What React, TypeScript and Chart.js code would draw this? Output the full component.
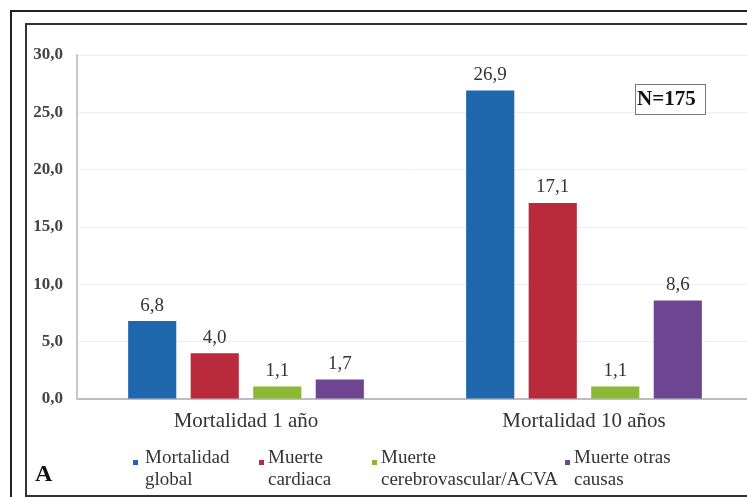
import React, { useEffect, useRef } from 'react';
import { Chart, registerables } from 'chart.js';

Chart.register(...registerables);

const categories = ['Mortalidad 1 año', 'Mortalidad 10 años'];
const seriesNames = ['Mortalidad global', 'Muerte cardiaca', 'Muerte cerebrovascular/ACVA', 'Muerte otras causas'];
const legendLines = [['Mortalidad', 'global'], ['Muerte', 'cardiaca'], ['Muerte', 'cerebrovascular/ACVA'], ['Muerte otras', 'causas']];
const mortalidadGlobal = [6.8, 26.9];
const muerteCardiaca = [4.0, 17.1];
const muerteCerebrovascular = [1.1, 1.1];
const muerteOtras = [1.7, 8.6];
const yMin = 0;
const yMax = 30;
const yStep = 5;
const sampleSizeLabel = 'N=175';
const panelLetter = 'A';

const colors = ['#1f67ad', '#b82a3c', '#8cb836', '#6e4591'];
const SERIF = '"Liberation Serif", "DejaVu Serif", serif';

const fmt = (v: number) => v.toFixed(1).replace('.', ',');

const overlayPlugin = {
  id: 'overlay',
  afterDatasetsDraw(chart: any) {
    const ctx = chart.ctx;
    ctx.save();
    // value labels
    ctx.font = `19px ${SERIF}`;
    ctx.fillStyle = '#333';
    ctx.textAlign = 'center';
    ctx.textBaseline = 'bottom';
    chart.data.datasets.forEach((ds: any, i: number) => {
      const meta = chart.getDatasetMeta(i);
      meta.data.forEach((bar: any, j: number) => {
        ctx.fillText(fmt(ds.data[j]), bar.x, bar.y - 6);
      });
    });
    // legend
    const xs = [133, 259, 372, 565];
    ctx.font = `19px ${SERIF}`;
    ctx.textAlign = 'left';
    ctx.textBaseline = 'middle';
    chart.data.datasets.forEach((ds: any, i: number) => {
      ctx.fillStyle = ds.backgroundColor;
      ctx.fillRect(xs[i], 460, 5, 5);
      ctx.fillStyle = '#333';
      const lines = legendLines[i];
      const tx = xs[i] + (i === 0 ? 12 : 9);
      ctx.fillText(lines[0], tx, 458);
      ctx.fillText(lines[1], tx, 480);
    });
    // panel letter
    ctx.font = `bold 24px ${SERIF}`;
    ctx.fillStyle = '#111';
    ctx.fillText(panelLetter, 35, 475);
    // N box
    ctx.fillStyle = '#fff';
    ctx.fillRect(636, 85, 69, 29);
    ctx.strokeStyle = '#777';
    ctx.lineWidth = 1;
    ctx.strokeRect(635.5, 84.5, 70, 30);
    ctx.font = `bold 21px ${SERIF}`;
    ctx.fillStyle = '#111';
    ctx.fillText(sampleSizeLabel, 637, 100);
    ctx.restore();
  },
};

export default function App() {
  const ref = useRef<HTMLCanvasElement>(null);
  useEffect(() => {
    if (!ref.current) return;
    const data = [mortalidadGlobal, muerteCardiaca, muerteCerebrovascular, muerteOtras];
    const chart = new Chart(ref.current, {
      type: 'bar',
      data: {
        labels: categories,
        datasets: seriesNames.map((name, i) => ({
          label: name,
          data: data[i],
          backgroundColor: colors[i],
          borderWidth: 0,
          barPercentage: 0.77,
          categoryPercentage: 0.74,
        })),
      },
      options: {
        responsive: false,
        animation: false,
        devicePixelRatio: 1,
        layout: { padding: { top: 55, left: 0, right: 0, bottom: 0 } },
        plugins: { legend: { display: false }, tooltip: { enabled: false }, title: { display: false } },
        scales: {
          x: {
            grid: { display: false, drawTicks: false },
            border: { display: true, color: '#bdbdbd', width: 2 },
            ticks: { color: '#333', font: { family: SERIF, size: 21 }, padding: 10 },
            afterFit: (s: any) => { s.height = 98; },
          },
          y: {
            min: yMin,
            max: yMax,
            grid: { color: '#eeeeee', drawTicks: false, lineWidth: 1 },
            border: { display: true, color: '#c8c8c8', width: 2 },
            ticks: {
              stepSize: yStep,
              color: '#444',
              font: { family: SERIF, size: 17, weight: 'bold' },
              padding: 14,
              callback: (v: any) => fmt(Number(v)),
            },
            afterFit: (s: any) => { s.width = 77; },
          },
        },
      },
      plugins: [overlayPlugin],
    });
    return () => chart.destroy();
  }, []);

  return (
    <div style={{ position: 'fixed', left: 0, top: 0, width: 747, height: 497, overflow: 'hidden', background: '#fff' }}>
      <div style={{ position: 'absolute', left: 10, top: 10, width: 780, height: 520, border: '2px solid #222' }} />
      <div style={{ position: 'absolute', left: 25, top: 23, width: 760, height: 470, border: '2px solid #333', background: '#fff' }} />
      <canvas ref={ref} width={753} height={497} style={{ position: 'absolute', left: 0, top: 0, width: 753, height: 497 }} />
    </div>
  );
}
